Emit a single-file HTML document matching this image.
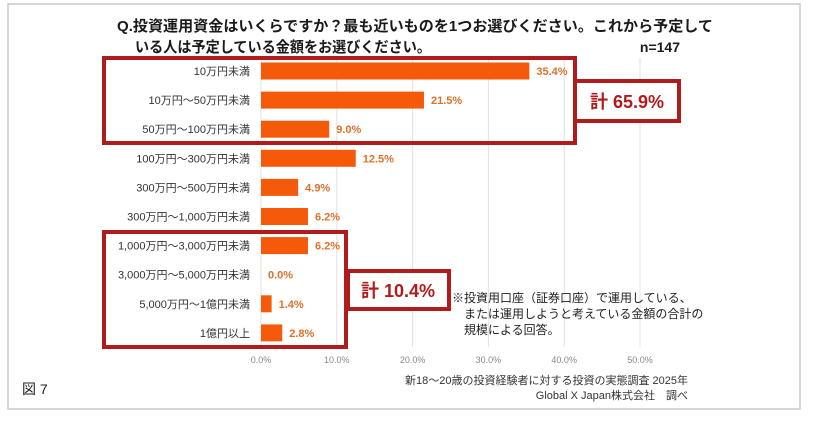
<!DOCTYPE html>
<html><head><meta charset="utf-8"><style>
body{margin:0;background:#fff;width:815px;height:438px;overflow:hidden;font-family:"Liberation Sans","Noto Sans CJK JP",sans-serif;}
</style></head><body>
<svg width="815" height="438" xmlns="http://www.w3.org/2000/svg" style="font-family:'Liberation Sans','Noto Sans CJK JP',sans-serif">
<rect x="8" y="4" width="792" height="405" fill="none" stroke="#c8c8c8" stroke-width="1.5"/>
<text x="117" y="31" font-size="15" font-weight="bold" fill="#1a1a1a" textLength="596" lengthAdjust="spacingAndGlyphs">Q.投資運用資金はいくらですか？最も近いものを1つお選びください。これから予定して</text>
<text x="135" y="52" font-size="15" font-weight="bold" fill="#1a1a1a" textLength="296" lengthAdjust="spacingAndGlyphs">いる人は予定している金額をお選びください。</text>
<text x="680" y="52" font-size="14" font-weight="bold" fill="#1a1a1a" text-anchor="end">n=147</text>
<g id="grid"></g><g id="bars"></g><g id="ticks"></g>
<rect x="104" y="58" width="471" height="85" fill="none" stroke="#b01c1c" stroke-width="4"/>
<rect x="575" y="81" width="104" height="40" fill="#fff" stroke="#b01c1c" stroke-width="4"/>
<text x="627" y="108" font-size="18" font-weight="bold" fill="#b01c1c" text-anchor="middle">計 65.9%</text>
<rect x="104" y="232" width="242" height="115" fill="none" stroke="#b01c1c" stroke-width="4"/>
<rect x="348" y="271" width="101" height="38" fill="#fff" stroke="#b01c1c" stroke-width="4"/>
<text x="398" y="297" font-size="18" font-weight="bold" fill="#b01c1c" text-anchor="middle">計 10.4%</text>
<g font-size="12" fill="#222">
<text x="452" y="302">※投資用口座（証券口座）で運用している、</text>
<text x="464" y="318">または運用しようと考えている金額の合計の</text>
<text x="464" y="334">規模による回答。</text></g>
<text x="688" y="384" font-size="11" fill="#333" text-anchor="end">新18～20歳の投資経験者に対する投資の実態調査 2025年</text>
<text x="688" y="399" font-size="11" fill="#333" text-anchor="end">Global X Japan株式会社　調べ</text>
<text x="22" y="394" font-size="14" fill="#222">図 7</text>
</svg>
<script>
const categories=["10万円未満","10万円～50万円未満","50万円～100万円未満","100万円～300万円未満","300万円～500万円未満","300万円～1,000万円未満","1,000万円～3,000万円未満","3,000万円～5,000万円未満","5,000万円～1億円未満","1億円以上"];
const values=[35.4,21.5,9.0,12.5,4.9,6.2,6.2,0.0,1.4,2.8];
const tickValues=[0,10,20,30,40,50];
const NS="http://www.w3.org/2000/svg";
const x=v=>261+v*7.58;
const y=i=>71+i*29.1;
function mk(t,a,p){const e=document.createElementNS(NS,t);for(const k in a)e.setAttribute(k,a[k]);p.appendChild(e);return e;}
const grid=document.getElementById('grid'),bars=document.getElementById('bars'),ticks=document.getElementById('ticks');
tickValues.forEach(t=>{
const l=mk('line',{x1:x(t),x2:x(t),y1:58,y2:347,stroke:'#e2e2e2','stroke-width':1},grid);


const tx=mk('text',{x:x(t),y:363,'font-size':9,fill:'#888','text-anchor':'middle'},ticks);
tx.textContent=t.toFixed(1)+'%';


});
categories.forEach((c,i)=>{
const lb=mk('text',{x:250,y:y(i)+4,'font-size':11,fill:'#333','text-anchor':'end'},bars);
lb.textContent=c;


const r=mk('rect',{x:x(0),y:y(i)-8.5,width:Math.max(0,x(values[i])-x(0)),height:17,fill:'#f55a0a'},bars);


const v=mk('text',{x:x(values[i])+7,y:y(i)+4,'font-size':11,'font-weight':'bold',fill:'#e0702a'},bars);
v.textContent=values[i].toFixed(1)+'%';


});
</script>
</body></html>
